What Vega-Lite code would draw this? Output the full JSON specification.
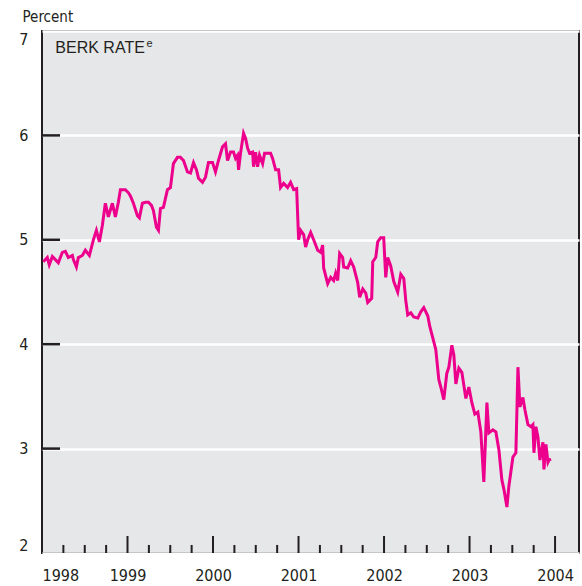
{
  "$schema": "https://vega.github.io/schema/vega-lite/v6.json",
  "width": 537,
  "height": 522,
  "autosize": {"type": "none"},
  "padding": {"left": 42, "top": 31, "right": 3, "bottom": 33},
  "background": "white",
  "config": {
    "view": {"fill": "#e6e7e8", "stroke": "#231f20", "strokeWidth": 2},
    "font": "DejaVu Sans Condensed"
  },
  "data": {"values": [
    {"t":1998.015,"r":4.79},{"t":1998.062,"r":4.83},{"t":1998.085,"r":4.76},{"t":1998.121,"r":4.84},{"t":1998.156,"r":4.81},
    {"t":1998.191,"r":4.78},{"t":1998.238,"r":4.88},{"t":1998.273,"r":4.89},{"t":1998.308,"r":4.83},{"t":1998.355,"r":4.85},
    {"t":1998.367,"r":4.81},{"t":1998.402,"r":4.74},{"t":1998.425,"r":4.83},{"t":1998.472,"r":4.85},{"t":1998.507,"r":4.90},
    {"t":1998.554,"r":4.85},{"t":1998.601,"r":5.00},{"t":1998.636,"r":5.09},{"t":1998.671,"r":4.98},{"t":1998.706,"r":5.14},
    {"t":1998.741,"r":5.35},{"t":1998.776,"r":5.22},{"t":1998.823,"r":5.35},{"t":1998.858,"r":5.22},{"t":1998.893,"r":5.36},
    {"t":1998.917,"r":5.48},{"t":1998.975,"r":5.48},{"t":1999.011,"r":5.45},{"t":1999.034,"r":5.42},{"t":1999.069,"r":5.35},
    {"t":1999.116,"r":5.23},{"t":1999.139,"r":5.21},{"t":1999.174,"r":5.35},{"t":1999.210,"r":5.36},{"t":1999.245,"r":5.36},
    {"t":1999.280,"r":5.33},{"t":1999.303,"r":5.28},{"t":1999.338,"r":5.12},{"t":1999.362,"r":5.09},{"t":1999.385,"r":5.30},
    {"t":1999.420,"r":5.31},{"t":1999.467,"r":5.48},{"t":1999.502,"r":5.50},{"t":1999.537,"r":5.73},{"t":1999.584,"r":5.79},
    {"t":1999.619,"r":5.79},{"t":1999.655,"r":5.76},{"t":1999.701,"r":5.65},{"t":1999.737,"r":5.64},{"t":1999.772,"r":5.74},
    {"t":1999.807,"r":5.67},{"t":1999.830,"r":5.59},{"t":1999.877,"r":5.55},{"t":1999.912,"r":5.60},{"t":1999.947,"r":5.74},
    {"t":1999.994,"r":5.74},{"t":2000.029,"r":5.65},{"t":2000.064,"r":5.76},{"t":2000.111,"r":5.89},{"t":2000.146,"r":5.92},
    {"t":2000.170,"r":5.76},{"t":2000.205,"r":5.84},{"t":2000.240,"r":5.84},{"t":2000.263,"r":5.78},{"t":2000.287,"r":5.81},
    {"t":2000.299,"r":5.67},{"t":2000.322,"r":5.83},{"t":2000.357,"r":6.02},{"t":2000.381,"r":5.97},{"t":2000.404,"r":5.88},
    {"t":2000.427,"r":5.83},{"t":2000.463,"r":5.84},{"t":2000.474,"r":5.70},{"t":2000.498,"r":5.84},{"t":2000.521,"r":5.70},
    {"t":2000.544,"r":5.81},{"t":2000.580,"r":5.73},{"t":2000.603,"r":5.83},{"t":2000.638,"r":5.83},{"t":2000.673,"r":5.83},
    {"t":2000.697,"r":5.78},{"t":2000.732,"r":5.67},{"t":2000.767,"r":5.67},{"t":2000.790,"r":5.50},{"t":2000.826,"r":5.54},
    {"t":2000.872,"r":5.50},{"t":2000.907,"r":5.55},{"t":2000.943,"r":5.48},{"t":2000.978,"r":5.49},{"t":2001.001,"r":5.00},
    {"t":2001.025,"r":5.09},{"t":2001.060,"r":5.05},{"t":2001.083,"r":4.93},{"t":2001.107,"r":5.00},{"t":2001.142,"r":5.07},
    {"t":2001.177,"r":5.00},{"t":2001.224,"r":4.90},{"t":2001.259,"r":4.88},{"t":2001.282,"r":4.95},{"t":2001.294,"r":4.73},
    {"t":2001.341,"r":4.58},{"t":2001.376,"r":4.64},{"t":2001.411,"r":4.61},{"t":2001.434,"r":4.68},{"t":2001.458,"r":4.61},
    {"t":2001.481,"r":4.87},{"t":2001.516,"r":4.83},{"t":2001.528,"r":4.74},{"t":2001.575,"r":4.73},{"t":2001.610,"r":4.80},
    {"t":2001.645,"r":4.74},{"t":2001.692,"r":4.59},{"t":2001.715,"r":4.45},{"t":2001.751,"r":4.53},{"t":2001.786,"r":4.49},
    {"t":2001.809,"r":4.40},{"t":2001.856,"r":4.44},{"t":2001.868,"r":4.79},{"t":2001.903,"r":4.83},{"t":2001.926,"r":4.98},
    {"t":2001.961,"r":5.02},{"t":2001.996,"r":5.02},{"t":2002.020,"r":4.64},{"t":2002.043,"r":4.83},{"t":2002.078,"r":4.75},
    {"t":2002.114,"r":4.60},{"t":2002.160,"r":4.50},{"t":2002.196,"r":4.67},{"t":2002.231,"r":4.63},{"t":2002.254,"r":4.42},
    {"t":2002.277,"r":4.28},{"t":2002.313,"r":4.30},{"t":2002.348,"r":4.26},{"t":2002.395,"r":4.25},{"t":2002.430,"r":4.31},
    {"t":2002.465,"r":4.35},{"t":2002.512,"r":4.27},{"t":2002.535,"r":4.17},{"t":2002.570,"r":4.06},{"t":2002.605,"r":3.95},
    {"t":2002.641,"r":3.66},{"t":2002.664,"r":3.59},{"t":2002.687,"r":3.51},{"t":2002.699,"r":3.47},{"t":2002.734,"r":3.72},
    {"t":2002.758,"r":3.78},{"t":2002.793,"r":3.99},{"t":2002.816,"r":3.90},{"t":2002.840,"r":3.62},{"t":2002.875,"r":3.77},
    {"t":2002.910,"r":3.73},{"t":2002.957,"r":3.48},{"t":2002.992,"r":3.59},{"t":2003.027,"r":3.44},{"t":2003.062,"r":3.33},
    {"t":2003.097,"r":3.35},{"t":2003.132,"r":3.16},{"t":2003.167,"r":2.68},{"t":2003.203,"r":3.44},{"t":2003.226,"r":3.15},
    {"t":2003.273,"r":3.18},{"t":2003.308,"r":3.16},{"t":2003.343,"r":2.99},{"t":2003.378,"r":2.70},{"t":2003.402,"r":2.61},
    {"t":2003.437,"r":2.44},{"t":2003.460,"r":2.64},{"t":2003.507,"r":2.92},{"t":2003.542,"r":2.96},{"t":2003.566,"r":3.78},
    {"t":2003.589,"r":3.40},{"t":2003.624,"r":3.49},{"t":2003.648,"r":3.37},{"t":2003.683,"r":3.23},{"t":2003.718,"r":3.21},
    {"t":2003.741,"r":3.23},{"t":2003.753,"r":2.96},{"t":2003.776,"r":3.21},{"t":2003.800,"r":3.11},{"t":2003.823,"r":2.89},
    {"t":2003.858,"r":3.06},{"t":2003.870,"r":2.80},{"t":2003.893,"r":3.04},{"t":2003.917,"r":2.87},{"t":2003.929,"r":2.89},
    {"t":2003.952,"r":2.90}
  ]},
  "layer": [
    {
      "mark": {"type": "line", "color": "#ec008c", "strokeWidth": 3, "clip": true},
      "encoding": {
        "x": {
          "field": "t", "type": "quantitative",
          "scale": {"domain": [1998, 2004.28], "nice": false, "zero": false},
          "axis": {
            "title": null,
            "values": [1998, 1999, 2000, 2001, 2002, 2003, 2004],
            "format": "d",
            "labelOverlap": false,
            "labelFont": "DejaVu Sans Condensed",
            "labelFontSize": 16,
            "labelColor": "#231f20",
            "labelPadding": 14,
            "domain": false,
            "grid": false,
            "ticks": false
          }
        },
        "y": {
          "field": "r", "type": "quantitative",
          "scale": {"domain": [2, 7], "nice": false, "zero": false},
          "axis": {
            "values": [2, 3, 4, 5, 6, 7],
            "format": "d",
            "title": "Percent",
            "titleAngle": 0,
            "titleAlign": "left",
            "titleBaseline": "alphabetic",
            "titleX": -20,
            "titleY": -10,
            "titleFont": "DejaVu Sans Condensed",
            "titleFontSize": 15,
            "titleFontWeight": "normal",
            "titleColor": "#231f20",
            "labelFont": "DejaVu Sans Condensed",
            "labelFontSize": 16,
            "labelColor": "#231f20",
            "labelFlush": true,
            "labelPadding": 14,
            "domain": false,
            "grid": true,
            "gridColor": "#ffffff",
            "gridWidth": 2.5,
            "gridOpacity": 1,
            "ticks": false
          }
        }
      }
    },
    {
      "data": {"values": [
        {"q": 1998.25}, {"q": 1998.5}, {"q": 1998.75},
        {"q": 1999.25}, {"q": 1999.5}, {"q": 1999.75},
        {"q": 2000.25}, {"q": 2000.5}, {"q": 2000.75},
        {"q": 2001.25}, {"q": 2001.5}, {"q": 2001.75},
        {"q": 2002.25}, {"q": 2002.5}, {"q": 2002.75},
        {"q": 2003.25}, {"q": 2003.5}, {"q": 2003.75}
      ]},
      "mark": {"type": "rule", "color": "#231f20", "strokeWidth": 2},
      "encoding": {
        "x": {"field": "q", "type": "quantitative"},
        "y": {"datum": 2, "type": "quantitative"},
        "y2": {"datum": 2.077}
      }
    },
    {
      "data": {"values": [
        {"yr": 1999}, {"yr": 2000}, {"yr": 2001}, {"yr": 2002}, {"yr": 2003}, {"yr": 2004}
      ]},
      "mark": {"type": "rule", "color": "#231f20", "strokeWidth": 2},
      "encoding": {
        "x": {"field": "yr", "type": "quantitative"},
        "y": {"datum": 2, "type": "quantitative"},
        "y2": {"datum": 2.163}
      }
    },
    {
      "data": {"values": [{"v": 3}, {"v": 4}, {"v": 5}, {"v": 6}]},
      "mark": {"type": "rule", "color": "#231f20", "strokeWidth": 2.5},
      "encoding": {
        "y": {"field": "v", "type": "quantitative"},
        "x": {"datum": 1998, "type": "quantitative"},
        "x2": {"datum": 1998.211}
      }
    },
    {
      "data": {"values": [{"label": "BERK RATE"}]},
      "mark": {"type": "text", "align": "left", "baseline": "alphabetic", "font": "Liberation Sans", "fontSize": 16, "color": "#231f20"},
      "encoding": {
        "x": {"datum": 1998.156, "type": "quantitative"},
        "y": {"datum": 6.794, "type": "quantitative"},
        "text": {"field": "label"}
      }
    },
    {
      "data": {"values": [{"label": "e"}]},
      "mark": {"type": "text", "align": "left", "baseline": "alphabetic", "font": "Liberation Sans", "fontSize": 11, "color": "#231f20"},
      "encoding": {
        "x": {"datum": 1999.221, "type": "quantitative"},
        "y": {"datum": 6.85, "type": "quantitative"},
        "text": {"field": "label"}
      }
    }
  ]
}
